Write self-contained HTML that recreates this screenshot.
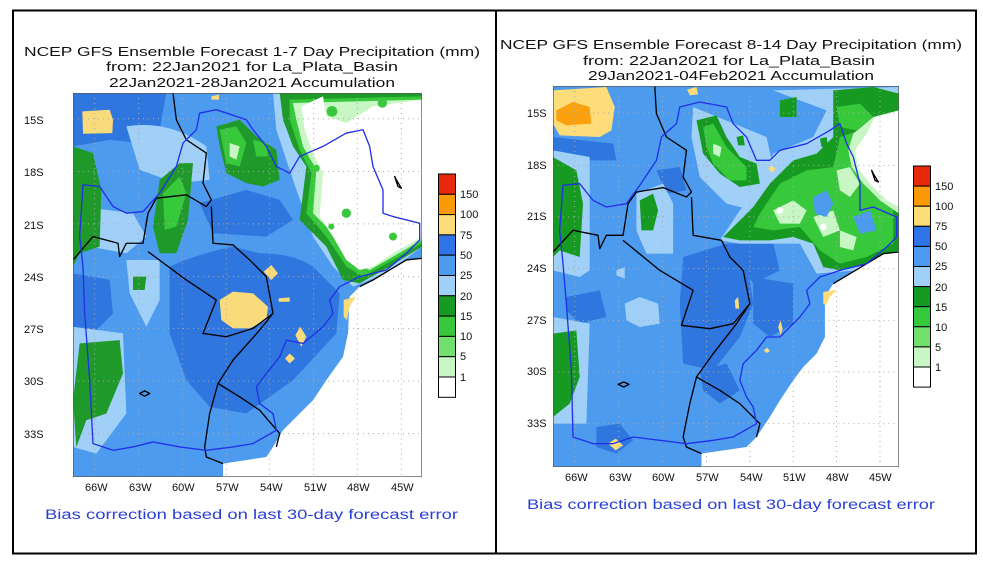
<!DOCTYPE html>
<html><head><meta charset="utf-8"><style>
html,body{margin:0;padding:0;background:#fff;width:983px;height:566px;overflow:hidden}
svg{display:block}
text{font-family:"Liberation Sans",sans-serif;fill:#111}
.t{font-size:13px}
.tk{font-size:11px}
.b{font-size:13.5px;fill:#2a3fd6}
</style></head><body>
<svg width="983" height="566" viewBox="0 0 983 566" xmlns="http://www.w3.org/2000/svg">
<rect width="983" height="566" fill="#fff"/>
<rect x="13" y="10.5" width="963" height="543" fill="none" stroke="#000" stroke-width="2"/>
<line x1="496" y1="10" x2="496" y2="554" stroke="#000" stroke-width="2"/>

<text class="t" x="24" y="56" textLength="456" lengthAdjust="spacingAndGlyphs">NCEP GFS Ensemble Forecast 1-7 Day Precipitation (mm)</text>
<text class="t" x="106" y="71" textLength="292" lengthAdjust="spacingAndGlyphs">from: 22Jan2021  for La_Plata_Basin</text>
<text class="t" x="109" y="87" textLength="286" lengthAdjust="spacingAndGlyphs">22Jan2021-28Jan2021 Accumulation</text>
<text class="b" x="45" y="519" textLength="413" lengthAdjust="spacingAndGlyphs">Bias correction based on last 30-day forecast error</text>

<svg x="73" y="93" width="349" height="384" viewBox="40 40 1047 1150" preserveAspectRatio="none">
<rect x="40" y="40" width="1047" height="1150" fill="#4c9bef"/>
<g fill="#2f76de">
<path d="M40 40 H320 L300 150 L240 190 L150 180 L40 200Z"/>
<path d="M330 560 Q420 520 520 500 L600 520 Q700 520 760 560 L840 640 L830 760 L700 900 L560 1000 L450 980 L380 900 L330 760Z"/>
<path d="M420 370 L560 330 L660 360 L700 420 L620 470 L460 460Z"/>
<path d="M40 580 L150 600 L160 700 L100 760 L40 740Z"/>
</g>
<g fill="#a0d0f8">
<path d="M200 140 Q330 120 440 200 L450 300 L350 310 L240 270Z"/>
<path d="M60 380 L220 400 L260 470 L200 520 L90 500Z"/>
<path d="M40 740 L190 760 L200 1000 L110 1120 L40 1100Z"/>
<path d="M200 540 L300 540 L300 660 L260 740 L210 640Z"/>
<path d="M640 40 L1087 40 L1087 500 L980 580 L880 620 L820 560 L760 470 L700 300 L650 150Z"/>
</g>
<g fill="#1f9a2a">
<path d="M40 200 L100 220 L125 330 L120 500 L60 520 L40 560Z"/>
<path d="M300 300 L360 250 L400 250 L385 420 L350 520 L300 520 L280 440Z"/>
<path d="M470 140 L540 120 L590 170 L650 210 L660 300 L610 320 L560 310 L500 280 L480 200Z"/>
<path d="M60 790 L180 780 L190 880 L140 1000 L80 1020 L50 1100 L40 960Z"/>
<path d="M220 590 L260 590 L255 630 L220 630Z"/>
<path d="M660 40 L1087 40 L1087 500 L990 560 L900 610 L850 600 L800 500 L720 420 L740 260 L700 200 L670 120Z"/>
</g>
<g fill="#37c83c">
<path d="M480 150 L530 140 L560 190 L540 260 L500 250Z"/>
<path d="M580 180 L620 190 L625 230 L590 230Z"/>
<path d="M310 340 L360 290 L380 340 L350 440 L315 450Z"/>
<path d="M690 60 L1087 50 L1087 490 L1000 540 L910 590 L860 560 L800 470 L740 400 L755 280 L720 210 L690 120Z"/>
</g>
<g fill="#c8f7c5">
<path d="M700 70 L1087 60 L1087 480 L1000 530 L930 570 L880 550 L820 460 L760 400 L770 270 L730 200 L710 120Z"/>
<path d="M510 190 L540 200 L530 240 L510 230Z"/>
</g>
<g fill="#fff">
<path d="M725 80 L790 50 L800 110 L860 130 L940 80 L1087 60 L1087 470 L1000 520 L940 560 L900 570 L860 540 L820 470 L780 410 L790 280 L760 220 L735 150Z"/>
<path d="M1087 535 L1040 540 L990 570 L940 600 L900 620 L870 650 L865 760 L850 830 L800 900 L760 960 L720 1000 L670 1050 L640 1100 L620 1130 L490 1150 L490 1190 L1087 1190Z"/>
</g>
<g fill="#37c83c">
<circle cx="860" cy="400" r="14"/><circle cx="968" cy="70" r="14"/><circle cx="817" cy="95" r="16"/><circle cx="1000" cy="470" r="12"/><circle cx="770" cy="265" r="10"/><circle cx="815" cy="440" r="9"/>
</g>
<g fill="#fadb7b">
<path d="M68 95 L150 90 L160 120 L158 160 L70 162Z"/>
<path d="M480 660 L520 635 L580 640 L625 680 L620 720 L570 745 L520 745 L485 720Z"/>
<path d="M612 575 L635 555 L655 580 L635 600Z"/>
<path d="M707 765 L722 740 L740 770 L725 800Z"/>
<path d="M676 835 L690 820 L706 835 L690 850Z"/>
<path d="M657 655 L690 652 L690 665 L657 665Z"/>
<path d="M852 660 L888 650 L870 680 L862 720 L852 710Z"/>
<path d="M455 50 L478 45 L478 60 L455 60Z"/>
</g>
<g stroke="#aaa" stroke-width="3" stroke-dasharray="3 12" fill="none">
<path d="M105 40V1190M237 40V1190M368 40V1190M500 40V1190M630 40V1190M762 40V1190M893 40V1190M1025 40V1190"/>
<path d="M40 117H1087M40 275H1087M40 432H1087M40 590H1087M40 745H1087M40 903H1087M40 1060H1087"/>
</g>
<g stroke="#000" stroke-width="4" fill="none" stroke-linejoin="round">
<path d="M40 540 L100 470 L175 490 L180 530 L200 490 L250 490 L265 400 L290 355 L380 345 L440 380 L455 360 L430 310 L440 220 L380 180 L350 120 L340 40"/>
<path d="M265 515 L380 600 L470 660 L430 760 L500 770 L580 745 L640 700 L620 590 L570 540 L520 495 L460 490 L455 380"/>
<path d="M640 700 L600 750 L520 840 L475 910 L450 1000 L435 1100 L440 1130 L490 1150"/>
<path d="M475 910 L540 950 L600 990 L660 1060 L650 1100"/>
<path d="M1087 535 L1040 540 L990 570 L940 600 L900 620"/>
<path d="M240 940 L255 932 L270 940 L255 948Z"/>
<path d="M1005 290 L1015 320 L1025 325 L1010 300Z"/>
</g>
<g stroke="#2230e8" stroke-width="4" fill="none" stroke-linejoin="round">
<path d="M70 315 L120 320 L160 380 L200 400 L250 395 L300 340 L350 260 L370 190 L410 150 L420 100 L470 90 L560 120 L580 150 L620 200 L650 260 L690 280 L720 230 L790 200 L860 160 L910 150 L930 200 L940 260 L970 330 L970 400 L1000 410 L1080 430 L1080 480 L1040 520 L980 570 L900 590 L840 620 L810 660 L820 700 L790 740 L730 790 L680 780 L660 830 L620 880 L590 920 L600 970 L640 1000 L650 1050 L580 1090 L520 1100 L440 1110 L360 1100 L280 1085 L220 1100 L160 1110 L100 1090 L90 900 L75 700 L70 560 L60 470 Z"/>
</g>
<rect x="40" y="40" width="1047" height="1150" fill="none" stroke="#555" stroke-width="4"/>
</svg>
<g class="tk">
<text x="24" y="124">15S</text><text x="24" y="176">18S</text><text x="24" y="229">21S</text><text x="24" y="281">24S</text><text x="24" y="333">27S</text><text x="24" y="385">30S</text><text x="24" y="438">33S</text>
<text x="85" y="491">66W</text><text x="129" y="491">63W</text><text x="172" y="491">60W</text><text x="216" y="491">57W</text><text x="260" y="491">54W</text><text x="304" y="491">51W</text><text x="347" y="491">48W</text><text x="391" y="491">45W</text>
</g>
<g stroke="#000" stroke-width="1">
<rect x="438.5" y="174" width="17" height="20.3" fill="#e8280a"/>
<rect x="438.5" y="194.3" width="17" height="20.3" fill="#fb9a06"/>
<rect x="438.5" y="214.6" width="17" height="20.3" fill="#fddc7a"/>
<rect x="438.5" y="234.9" width="17" height="20.3" fill="#2e74e6"/>
<rect x="438.5" y="255.2" width="17" height="20.3" fill="#4c9bef"/>
<rect x="438.5" y="275.5" width="17" height="20.3" fill="#a0d0f8"/>
<rect x="438.5" y="295.8" width="17" height="20.3" fill="#169a22"/>
<rect x="438.5" y="316.1" width="17" height="20.3" fill="#37c83c"/>
<rect x="438.5" y="336.4" width="17" height="20.3" fill="#72e06c"/>
<rect x="438.5" y="356.7" width="17" height="20.3" fill="#c8f7c5"/>
<rect x="438.5" y="377" width="17" height="20.3" fill="#fff"/>
</g>
<g class="tk"><text x="460" y="198">150</text><text x="460" y="218">100</text><text x="460" y="239">75</text><text x="460" y="259">50</text><text x="460" y="279">25</text><text x="460" y="300">20</text><text x="460" y="320">15</text><text x="460" y="340">10</text><text x="460" y="360">5</text><text x="460" y="381">1</text></g>

<text class="t" x="500" y="49" textLength="462" lengthAdjust="spacingAndGlyphs">NCEP GFS Ensemble Forecast 8-14 Day Precipitation (mm)</text>
<text class="t" x="583" y="65" textLength="292" lengthAdjust="spacingAndGlyphs">from: 22Jan2021  for La_Plata_Basin</text>
<text class="t" x="588" y="80" textLength="286" lengthAdjust="spacingAndGlyphs">29Jan2021-04Feb2021 Accumulation</text>
<text class="b" x="527" y="509" textLength="408" lengthAdjust="spacingAndGlyphs">Bias correction based on last 30-day forecast error</text>

<svg x="553" y="86" width="346" height="381" viewBox="40 47 1037 1143" preserveAspectRatio="none">
<rect x="40" y="47" width="1037" height="1143" fill="#4c9bef"/>
<g fill="#2f76de">
<path d="M40 200 L220 220 L230 270 L130 270 L40 260Z"/>
<path d="M430 560 L560 520 L620 560 L640 700 L600 800 L520 900 L430 880 L420 700Z"/>
<path d="M560 520 L700 520 L720 600 L640 640Z"/>
<path d="M640 620 L760 640 L760 760 L690 800 L640 760Z"/>
<path d="M80 680 L180 660 L200 740 L120 760 L80 720Z"/>
<path d="M350 300 L420 290 L440 360 L380 370Z"/>
<path d="M480 900 L560 880 L600 960 L540 1000 L490 960Z"/>
<path d="M170 1070 L240 1060 L280 1110 L230 1150 L170 1130Z"/>
</g>
<g fill="#a0d0f8">
<path d="M290 370 L370 340 L400 400 L400 550 L320 550 L290 480Z"/>
<path d="M255 700 L300 680 L355 700 L360 760 L300 770 L260 750Z"/>
<path d="M230 600 L255 590 L255 625 L230 615Z"/>
<path d="M460 110 L680 200 L720 380 L640 420 L560 400 L480 320 L455 200Z"/>
<path d="M700 60 L1077 50 L1077 545 L950 600 L830 610 L780 520 L600 520 L540 510 L600 420 L650 360 L700 250 L820 200 L860 120Z"/>
<path d="M40 240 L150 260 L150 600 L120 620 L40 600Z"/>
<path d="M40 740 L150 760 L140 1060 L40 1060Z"/>
</g>
<g fill="#169a22">
<path d="M470 150 L530 135 L560 200 L600 260 L650 280 L660 340 L600 350 L540 310 L490 250Z"/>
<path d="M300 390 L340 370 L355 420 L340 480 L305 480Z"/>
<path d="M720 90 L770 80 L770 140 L720 140Z"/>
<path d="M40 260 L110 300 L130 400 L120 560 L60 540 L40 560Z"/>
<path d="M40 790 L110 780 L120 920 L90 1000 L40 1040Z"/>
<path d="M880 60 L1000 50 L1077 70 L1077 540 L990 580 L900 600 L850 590 L820 520 L760 500 L690 510 L600 510 L550 500 L600 450 L640 410 L690 340 L760 270 L830 250 L880 200 L880 120Z"/>
<path d="M590 200 L610 195 L615 225 L595 225Z"/>
<path d="M840 205 L860 200 L865 230 L845 230Z"/>
</g>
<g fill="#37c83c">
<path d="M490 170 L520 160 L560 230 L620 290 L620 330 L570 330 L520 280 L500 230Z"/>
<path d="M660 430 L720 340 L800 300 L880 290 L900 200 L960 180 L1000 200 L1060 250 L1060 520 L980 560 L900 580 L840 540 L780 470 L700 480 L640 470Z"/>
<path d="M890 110 L960 100 L1000 140 L950 180 L900 170Z"/>
</g>
<g fill="#c8f7c5">
<path d="M700 420 L760 390 L800 420 L780 460 L720 460Z"/>
<path d="M820 440 L880 420 L900 480 L850 500Z"/>
<path d="M890 300 L930 290 L960 340 L930 380 L900 360Z"/>
<path d="M900 480 L950 500 L940 540 L900 530Z"/>
<path d="M520 220 L545 230 L540 260 L520 250Z"/>
<path d="M940 190 L1000 140 L1077 120 L1077 430 L1020 390 L970 340 L935 290 L925 240Z"/>
</g>
<g fill="#4c9bef">
<path d="M820 380 L860 360 L880 400 L860 440 L825 430Z"/>
<path d="M940 440 L990 420 L1010 480 L960 490Z"/>
</g>
<g fill="#fff">
<path d="M1005 140 L1077 120 L1077 410 L1040 390 L990 340 L955 295 L945 240 L980 190Z"/>
<path d="M1077 545 L1030 550 L980 580 L930 610 L880 640 L855 680 L855 800 L830 850 L790 890 L760 930 L720 990 L690 1040 L650 1100 L620 1130 L485 1150 L485 1190 L1077 1190Z"/>
<circle cx="720" cy="420" r="10"/><circle cx="850" cy="470" r="10"/>
</g>
<g fill="#fddc7a">
<path d="M40 60 L200 50 L225 110 L215 180 L180 200 L60 195 L40 160Z"/>
<path d="M205 1120 L228 1105 L250 1125 L228 1140Z"/>
<path d="M585 690 L595 680 L598 715 L587 715Z"/>
<path d="M715 770 L722 750 L728 775 L722 795Z"/>
<path d="M850 665 L890 658 L870 680 L858 705 L850 700Z"/>
<path d="M442 58 L470 50 L475 72 L450 75Z"/>
<path d="M685 295 L696 285 L707 297 L696 307Z"/>
<path d="M672 840 L682 832 L690 842 L680 848Z"/>
</g>
<path d="M50 120 L100 95 L150 110 L155 160 L80 165 L50 150Z" fill="#fba10d"/>
<g stroke="#aaa" stroke-width="3" stroke-dasharray="3 12" fill="none">
<path d="M105 47V1190M237 47V1190M368 47V1190M500 47V1190M630 47V1190M760 47V1190M890 47V1190M1020 47V1190"/>
<path d="M40 128H1077M40 285H1077M40 440H1077M40 595H1077M40 750H1077M40 905H1077M40 1060H1077"/>
</g>
<g stroke="#000" stroke-width="4" fill="none" stroke-linejoin="round">
<path d="M40 545 L100 480 L175 495 L180 535 L200 495 L250 495 L265 400 L290 365 L370 352 L440 380 L455 365 L430 320 L440 240 L380 200 L350 130 L345 47"/>
<path d="M250 510 L360 600 L460 660 L425 765 L510 775 L580 760 L630 700 L610 600 L570 560 L545 510 L460 495 L455 380"/>
<path d="M630 700 L590 760 L520 850 L470 920 L450 1000 L430 1100 L440 1130 L485 1150"/>
<path d="M470 920 L540 960 L600 1000 L660 1060 L650 1100"/>
<path d="M1077 545 L1030 550 L980 580 L930 610 L880 640"/>
<path d="M235 942 L252 935 L268 942 L252 950Z"/>
<path d="M995 300 L1005 330 L1015 335 L1000 310Z"/>
</g>
<g stroke="#2230e8" stroke-width="4" fill="none" stroke-linejoin="round">
<path d="M70 345 L120 340 L160 390 L200 410 L260 400 L300 345 L350 270 L365 200 L410 160 L420 110 L480 95 L560 110 L580 160 L620 200 L650 270 L690 270 L720 240 L800 220 L870 180 L900 160 L920 220 L940 260 L960 340 L960 420 L1000 410 L1070 440 L1070 500 L1040 530 L980 580 L900 600 L840 620 L800 660 L810 700 L780 740 L720 800 L680 800 L650 840 L610 880 L600 930 L620 980 L640 1010 L650 1060 L580 1100 L520 1110 L440 1120 L360 1110 L280 1100 L220 1120 L160 1120 L100 1100 L95 900 L80 700 L70 580 L60 480 Z"/>
</g>
<rect x="40" y="47" width="1037" height="1143" fill="none" stroke="#555" stroke-width="4"/>
</svg>
<g class="tk">
<text x="527" y="117">15S</text><text x="527" y="169">18S</text><text x="527" y="220">21S</text><text x="527" y="272">24S</text><text x="527" y="324">27S</text><text x="527" y="375">30S</text><text x="527" y="427">33S</text>
<text x="565" y="481">66W</text><text x="609" y="481">63W</text><text x="652" y="481">60W</text><text x="696" y="481">57W</text><text x="740" y="481">54W</text><text x="783" y="481">51W</text><text x="826" y="481">48W</text><text x="869" y="481">45W</text>
</g>
<g stroke="#000" stroke-width="1">
<rect x="913.5" y="166" width="17" height="20.1" fill="#e8280a"/>
<rect x="913.5" y="186.1" width="17" height="20.1" fill="#fb9a06"/>
<rect x="913.5" y="206.2" width="17" height="20.1" fill="#fddc7a"/>
<rect x="913.5" y="226.3" width="17" height="20.1" fill="#2e74e6"/>
<rect x="913.5" y="246.4" width="17" height="20.1" fill="#4c9bef"/>
<rect x="913.5" y="266.5" width="17" height="20.1" fill="#a0d0f8"/>
<rect x="913.5" y="286.6" width="17" height="20.1" fill="#169a22"/>
<rect x="913.5" y="306.7" width="17" height="20.1" fill="#37c83c"/>
<rect x="913.5" y="326.8" width="17" height="20.1" fill="#72e06c"/>
<rect x="913.5" y="346.9" width="17" height="20.1" fill="#c8f7c5"/>
<rect x="913.5" y="367" width="17" height="20.1" fill="#fff"/>
</g>
<g class="tk"><text x="935" y="190">150</text><text x="935" y="210">100</text><text x="935" y="230">75</text><text x="935" y="250">50</text><text x="935" y="270">25</text><text x="935" y="291">20</text><text x="935" y="311">15</text><text x="935" y="331">10</text><text x="935" y="351">5</text><text x="935" y="371">1</text></g>
</svg>
</body></html>
